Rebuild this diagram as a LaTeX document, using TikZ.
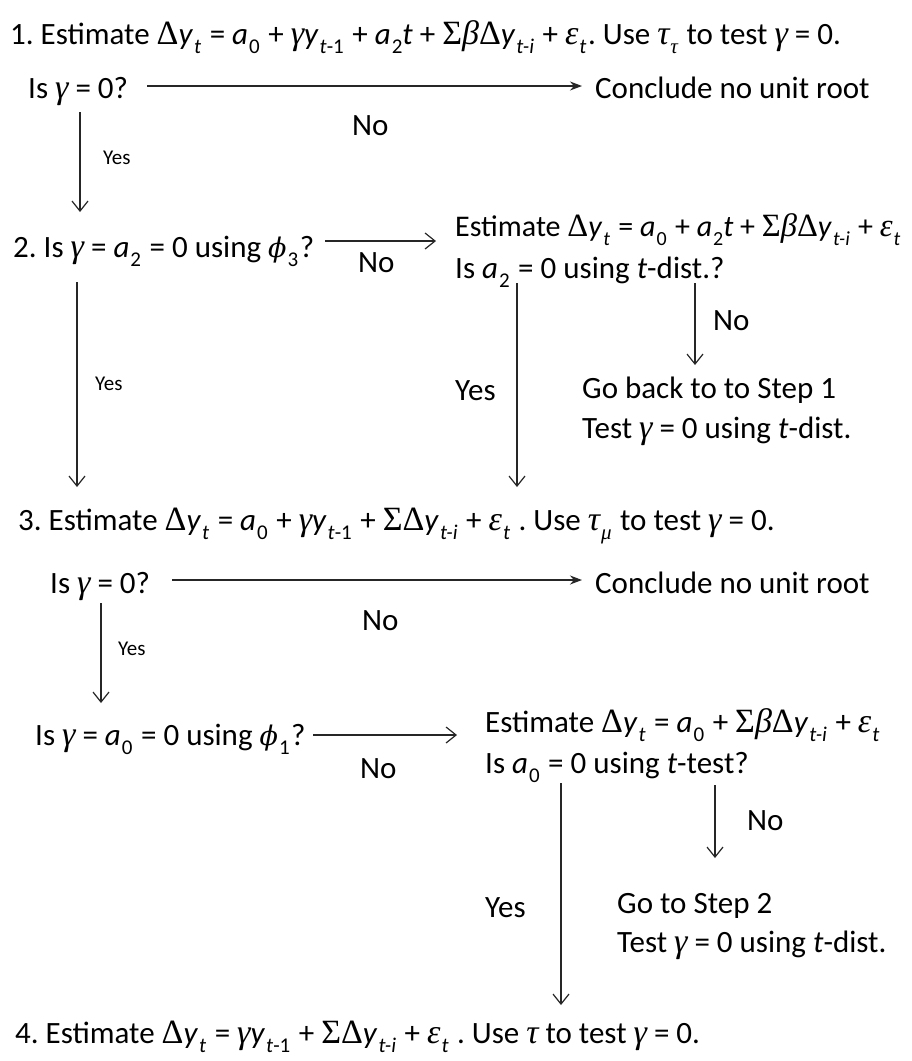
\documentclass[tikz,border=0pt]{standalone}
\usepackage{fontspec}
\setmainfont{Carlito}
\newfontfamily\grkfont{Liberation Serif}
\newfontfamily\phifont{DejaVu Serif}
\usetikzlibrary{arrows.meta}
\newcommand\subsz{21}
\newcommand\gsz{34}
\newcommand\sbs[1]{\kern1pt\raisebox{-0.32em}{\fontsize{\subsz}{\subsz}\selectfont #1}\kern1.5pt\relax}
\newcommand\sbsn[1]{\kern1pt\raisebox{-0.32em}{\fontsize{\subsz}{\subsz}\selectfont #1}}
\newcommand\iv[1]{\textit{#1}}
\newcommand\gk[1]{{\grkfont\itshape\fontsize{\gsz}{37}\selectfont #1}}
\newcommand\gks[1]{{\grkfont\itshape #1}}
\newcommand\up[1]{{\grkfont\fontsize{\gsz}{37}\selectfont #1}}
\newcommand\gph{{\phifont\itshape\fontsize{27}{30}\selectfont ϕ}}
\frenchspacing
\begin{document}
\begin{tikzpicture}[x=1pt,y=-1pt,
  txt/.style={anchor=base west,inner sep=0pt,font=\fontsize{31}{37}\selectfont},
  tighttxt/.style={anchor=base west,inner sep=0pt,font=\fontsize{30}{36}\selectfont\def\gsz{32.5}\def\subsz{20}},
  smalltxt/.style={anchor=base west,inner sep=0pt,font=\fontsize{21}{25}\selectfont},
  conn/.style={draw=black!85,line width=1.2pt,-{Straight Barb[length=10pt,width=16pt,line width=1.2pt]}},
  connf/.style={draw=black!85,line width=1.2pt,-{Stealth[length=12pt,width=9pt]}}]
\useasboundingbox[fill=white] (0,0) rectangle (912,1061);

% Step 1
\node[txt] (t1) at (10,44) {1. Estimate \up{Δ}\iv{y}\sbs{\iv{t}} = \iv{a}\sbs{0} + \gk{γ}\iv{y}\sbs{\iv{t}-1} + \iv{a}\sbsn{2}\iv{t} + \up{Σ}\gk{β}\up{Δ}\iv{y}\sbs{\iv{t-i}} + \gk{ε}\sbs{\iv{t}}. Use \gk{τ}\sbs{\gks{τ}} to test \gk{γ} = 0.};
\node[txt] (q1) at (28,98) {Is \gk{γ} = 0?};
\node[txt] (c1) at (595,98) {Conclude no unit root};
\node[txt] (n1) at (352,135) {No};
\node[smalltxt] (y1) at (103,164) {Yes};
\coordinate (q1out) at (147,86);
\coordinate (c1in) at (582,86);
\coordinate (q1down) at (80,112);
\coordinate (q2in) at (80,212);
\draw[connf] (q1out) -- (c1in);
\draw[conn] (q1down) -- (q2in);

% Step 2
\node[txt] (q2) at (13,257) {2. Is \gk{γ} = \iv{a}\sbs{2} = 0 using \gph\sbs{3}?};
\node[txt] (n2) at (358,272) {No};
\node[tighttxt] (e2) at (455,236) {Estimate \up{Δ}\iv{y}\sbs{\iv{t}} = \iv{a}\sbs{0} + \iv{a}\sbsn{2}\iv{t} + \up{Σ}\gk{β}\up{Δ}\iv{y}\sbs{\iv{t-i}} + \gk{ε}\sbsn{\iv{t}}};
\node[txt] (i2) at (455,278) {Is \iv{a}\sbs{2} = 0 using \iv{t}-dist.?};
\node[smalltxt] (y2) at (95,390) {Yes};
\node[txt] (y2b) at (455,400) {Yes};
\node[txt] (n2b) at (713,330) {No};
\node[txt] (g1a) at (582,398) {Go back to to Step 1};
\node[txt] (g1b) at (582,438) {Test \gk{γ} = 0 using \iv{t}-dist.};
\coordinate (q2out) at (325,241);
\coordinate (e2in) at (436,241);
\coordinate (q2down) at (77,282);
\coordinate (t3inL) at (77,487);
\coordinate (i2yes) at (517,283);
\coordinate (t3inR) at (517,487);
\coordinate (i2no) at (695,283);
\coordinate (g1in) at (695,365);
\draw[conn] (q2out) -- (e2in);
\draw[conn] (q2down) -- (t3inL);
\draw[conn] (i2yes) -- (t3inR);
\draw[conn] (i2no) -- (g1in);

% Step 3
\node[txt] (t3) at (18,530) {3. Estimate \up{Δ}\iv{y}\sbs{\iv{t}} = \iv{a}\sbs{0} + \gk{γ}\iv{y}\sbs{\iv{t}-1} + \up{ΣΔ}\iv{y}\sbs{\iv{t-i}} + \gk{ε}\sbs{\iv{t}} . Use \gk{τ}\sbs{\gks{μ}} to test \gk{γ} = 0.};
\node[txt] (q3) at (50,593) {Is \gk{γ} = 0?};
\node[txt] (c3) at (595,593) {Conclude no unit root};
\node[txt] (n3) at (362,630) {No};
\node[smalltxt] (y3) at (118,655) {Yes};
\coordinate (q3out) at (172,580);
\coordinate (c3in) at (582,580);
\coordinate (q3down) at (101,603);
\coordinate (q4in) at (101,703);
\draw[connf] (q3out) -- (c3in);
\draw[conn] (q3down) -- (q4in);

\node[txt] (q4) at (35,745) {Is \gk{γ} = \iv{a}\sbs{0} = 0 using \gph\sbs{1}?};
\node[txt] (n4) at (360,778) {No};
\node[txt] (e4) at (485,732) {Estimate \up{Δ}\iv{y}\sbs{\iv{t}} = \iv{a}\sbs{0} + \up{Σ}\gk{β}\up{Δ}\iv{y}\sbs{\iv{t-i}} + \gk{ε}\sbsn{\iv{t}}};
\node[txt] (i4) at (485,773) {Is \iv{a}\sbs{0} = 0 using \iv{t}-test?};
\node[txt] (y4) at (485,917) {Yes};
\node[txt] (n4b) at (747,830) {No};
\node[txt] (g2a) at (617,913) {Go to Step 2};
\node[txt] (g2b) at (617,952) {Test \gk{γ} = 0 using \iv{t}-dist.};
\coordinate (q4out) at (313,735);
\coordinate (e4in) at (457,735);
\coordinate (i4yes) at (561,783);
\coordinate (t4in) at (561,1005);
\coordinate (i4no) at (715,785);
\coordinate (g2in) at (715,858);
\draw[conn] (q4out) -- (e4in);
\draw[conn] (i4yes) -- (t4in);
\draw[conn] (i4no) -- (g2in);

% Step 4
\node[txt] (t4) at (15,1043) {4. Estimate \up{Δ}\iv{y}\sbs{\iv{t}} = \gk{γ}\iv{y}\sbs{\iv{t}-1} + \up{ΣΔ}\iv{y}\sbs{\iv{t-i}} + \gk{ε}\sbs{\iv{t}} . Use \gk{τ} to test \gk{γ} = 0.};
\end{tikzpicture}
\end{document}
